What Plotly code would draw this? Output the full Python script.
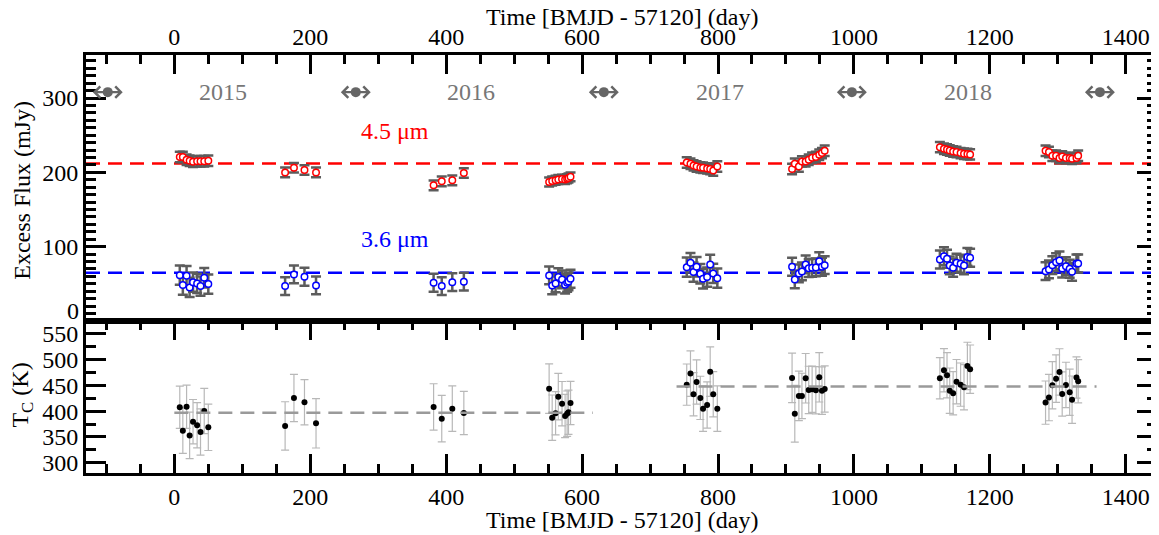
import plotly.graph_objects as go

# ---------------- data ----------------
days = [8, 12.5, 18, 22.5, 27.5, 33.5, 38.5, 44, 50,
        163, 176, 191.5, 208.5,
        381.5, 393.5, 409, 426,
        551.5, 556, 561, 565, 570.5, 575, 578, 580, 583,
        754, 759.5, 764, 768.5, 774, 778, 784, 788.5, 793, 799,
        909, 913, 919, 923.5, 929, 933.5, 938.5, 944, 949, 953, 957,
        1126.5, 1132.5, 1137, 1141, 1146, 1151, 1157, 1162, 1167, 1171,
        1282, 1287, 1292, 1297.5, 1302.5, 1306.5, 1312, 1317.5, 1321, 1327.5, 1330]

flux_45 = [220.7, 220.7, 217, 215.7, 214.4, 214.9, 214.9, 214.9, 215.7,
           200, 206.3, 203.2, 200,
           182.6, 188, 189.3, 199.2,
           187, 188.5, 189.5, 190.5, 191, 190.5, 191.5, 192.5, 194,
           213.4, 211.7, 209.4, 208, 206.7, 206.3, 205.4, 204.6, 202.5, 208,
           204.6, 211.7, 208, 214.8, 214.8, 217, 219.7, 220.7, 223.8, 226, 229.1,
           234, 231.8, 230.9, 229.5, 228.2, 227.4, 226, 225.1, 224.7, 224.2,
           229.1, 227.4, 222.4, 222.4, 219.3, 221.5, 219.3, 219.3, 218.4, 219.3, 222.4]

flux_36 = [61.7, 48.3, 60.9, 45.2, 52.3, 50.6, 47, 58.2, 49.7,
           47, 62.7, 59.6, 47.9,
           51.5, 47, 52.3, 52.9,
           61.3, 47.9, 50.6, 59.1, 56, 48.9, 51.5, 53.3, 56.9,
           72.5, 78.4, 65.8, 73, 63.6, 56.9, 59.1, 76.1, 64, 57.7,
           73, 56, 64, 66.7, 76.1, 71.1, 71.7, 72.1, 80.5, 73, 75.2,
           82.8, 87.2, 83.8, 74.8, 71.7, 78.4, 77, 74.8, 86.3, 85.1,
           67.1, 69.4, 75.2, 79.2, 81.5, 70.7, 73.8, 70.3, 66.3, 77.4, 77.4]

temp_c = [407.6, 362, 408.7, 353, 379.6, 372.6, 359.6, 400.4, 368.7,
          371.3, 425.6, 417.3, 376.5,
          408.2, 385.5, 404.9, 396.5,
          443.7, 387.4, 395.9, 428.2, 414.6, 390.7, 395.1, 397.9, 416,
          451.5, 472.9, 432.8, 456.7, 425.8, 404.9, 412, 476.7, 432.8, 404.9,
          464.5, 395.1, 429.6, 429.6, 463.9, 441.2, 442.5, 440.6, 465.8, 439.8, 443.1,
          463.9, 479.4, 469.7, 439.8, 434.8, 457.3, 451.5, 446.4, 487.8, 481.4,
          416.6, 426.4, 450.3, 463.1, 476.1, 433.4, 450.9, 436.7, 422.3, 465.2, 458.1]

err_45 = [7] * 9 + [6.5] * 4 + [6.5] * 4 + [6] * 9 + [7] * 10 + [7] * 11 + [7] * 10 + [7] * 11
err_36 = [13] * 9 + [12] * 4 + [12] * 4 + [12] * 9 + [13] * 10 + [12] * 11 + [12] * 10 + [12] * 11
err_tc = [41, 44, 42, 45, 43, 44, 45, 44, 45,
          47, 46, 44, 48,
          45, 45, 44, 42,
          48, 44, 42, 45, 43, 42, 44, 43, 42,
          40, 44, 42, 43, 42, 44, 45, 48, 44, 44,
          48, 55, 48, 44, 48, 46, 45, 46, 48, 46, 45,
          40, 42, 44, 44, 42, 43, 42, 44, 46, 47,
          42, 45, 46, 46, 45, 43, 44, 45, 46, 40, 42]

mean_45 = 212
mean_36 = 65
tc_mean_values = [397, 448]
tc_mean_spans = [(0, 616), (739, 1357)]

year_bounds = [-98, 267, 632, 997, 1362]
year_labels = ["2015", "2016", "2017", "2018"]
year_label_x = [72, 436.5, 803.5, 1167.5]
year_y = 308

band_labels = ["4.5 μm", "3.6 μm"]
band_label_pos = [(325, 256), (325, 110)]

# ---------------- figure ----------------
FONT = "Liberation Serif"
FS = 24
GREY_ERR = "#5c5c5c"
fig = go.Figure()

# top panel: 3.6 and 4.5 micron excess flux
fig.add_trace(go.Scatter(
    x=days, y=flux_36, mode="markers", xaxis="x2", yaxis="y2",
    error_y=dict(type="data", array=err_36, color=GREY_ERR, thickness=2.5, width=5),
    marker=dict(symbol="circle", size=6.5, color="white", line=dict(color="#0000ff", width=1.5)),
    showlegend=False))
fig.add_trace(go.Scatter(
    x=days, y=flux_45, mode="markers", xaxis="x2", yaxis="y2",
    error_y=dict(type="data", array=err_45, color=GREY_ERR, thickness=2.5, width=5),
    marker=dict(symbol="circle", size=6.5, color="white", line=dict(color="#ff0000", width=1.5)),
    showlegend=False))

# year markers
fig.add_trace(go.Scatter(
    x=year_bounds, y=[year_y] * len(year_bounds), mode="markers", xaxis="x2", yaxis="y2",
    marker=dict(symbol="circle", size=10, color="#666666"), showlegend=False, cliponaxis=False))

annotations = []
for xb in year_bounds:
    for dx in (-22, 22):
        annotations.append(dict(
            x=xb + dx, y=year_y, ax=xb, ay=year_y, xref="x2", yref="y2", axref="x2", ayref="y2",
            text="", showarrow=True, arrowhead=4, arrowsize=1.0, arrowwidth=2.2, arrowcolor="#666666"))
for lbl, xl in zip(year_labels, year_label_x):
    annotations.append(dict(x=xl, y=year_y, xref="x2", yref="y2", text=lbl, showarrow=False,
                            font=dict(family=FONT, size=FS, color="#777777")))
for lbl, (xl, yl), col in zip(band_labels, band_label_pos, ["#ff0000", "#0000ff"]):
    annotations.append(dict(x=xl, y=yl, xref="x2", yref="y2", text=lbl, showarrow=False,
                            font=dict(family=FONT, size=FS, color=col)))

# bottom panel: colour temperature
fig.add_trace(go.Scatter(
    x=days, y=temp_c, mode="markers", xaxis="x", yaxis="y",
    error_y=dict(type="data", array=err_tc, color="#b8b8b8", thickness=1.2, width=4),
    marker=dict(symbol="circle", size=6, color="black"), showlegend=False))

shapes = [
    dict(type="line", xref="x2 domain", yref="y2", x0=0, x1=1, y0=mean_45, y1=mean_45,
         line=dict(color="#ff0000", width=2.5, dash="14px,8px"), layer="below"),
    dict(type="line", xref="x2 domain", yref="y2", x0=0, x1=1, y0=mean_36, y1=mean_36,
         line=dict(color="#0000ff", width=2.5, dash="14px,8px"), layer="below"),
]
for val, (a, b) in zip(tc_mean_values, tc_mean_spans):
    shapes.append(dict(type="line", xref="x", yref="y", x0=a, x1=b, y0=val, y1=val,
                       line=dict(color="#9a9a9a", width=2.5, dash="14px,8px")))

# axis titles as annotations (plot area is 418 px tall, 1071 px wide)
annotations += [
    dict(text="Time [BMJD - 57120] (day)", xref="paper", yref="paper", x=0.5, y=-0.1124,
         xanchor="center", yanchor="middle",
         showarrow=False, font=dict(family=FONT, size=FS, color="black")),
    dict(text="Time [BMJD - 57120] (day)", xref="paper", yref="paper", x=0.5, y=1.0909,
         xanchor="center", yanchor="middle",
         showarrow=False, font=dict(family=FONT, size=FS, color="black")),
    dict(text="Excess Flux (mJy)", xref="paper", yref="paper", x=-0.06, y=0.677,
         xanchor="center", yanchor="middle",
         textangle=-90, showarrow=False, font=dict(family=FONT, size=FS, color="black")),
    dict(text="T<sub>C</sub> (K)", xref="paper", yref="paper", x=-0.06, y=0.187,
         xanchor="center", yanchor="middle",
         textangle=-90, showarrow=False, font=dict(family=FONT, size=FS, color="black")),
    dict(text="0", xref="paper", yref="y2", x=0, y=0, xanchor="right", yanchor="middle",
         xshift=-5, yshift=10, showarrow=False, font=dict(family=FONT, size=FS, color="black")),
]

XR = [-130, 1446]
SPLIT = 152 / 418
common_x = dict(range=XR, tick0=0, dtick=200, ticks="inside", ticklen=19, tickwidth=3,
                tickcolor="black", showline=True, linewidth=3, linecolor="black",
                showgrid=False, zeroline=False, automargin=False,
                minor=dict(tick0=0, dtick=50, ticks="inside", ticklen=9, tickwidth=3, tickcolor="black"),
                tickfont=dict(family=FONT, size=FS, color="black"))

# the page body adds an 8 px offset, margins compensate for it
fig.update_layout(
    width=1159, height=535, autosize=False,
    margin=dict(l=78, r=10, t=47, b=70, autoexpand=False),
    paper_bgcolor="white", plot_bgcolor="white",
    font=dict(family=FONT, size=FS, color="black"),
    xaxis=dict(anchor="y", side="bottom", mirror="ticks", ticklabelstandoff=0, **common_x),
    xaxis2=dict(anchor="y2", side="top", mirror=True, matches="x", ticklabelstandoff=-3, **common_x),
    yaxis=dict(domain=[0, SPLIT], range=[280, 575], tick0=300, dtick=50, ticks="inside",
               ticklen=20, tickwidth=3, tickcolor="black", showline=True, linewidth=3,
               linecolor="black", mirror="ticks", showgrid=False, zeroline=False, automargin=False,
               minor=dict(tick0=300, dtick=25, ticks="inside", ticklen=10, tickwidth=3, tickcolor="black"),
               tickfont=dict(family=FONT, size=FS, color="black")),
    yaxis2=dict(domain=[SPLIT, 1], range=[0, 358], tickmode="array",
                tickvals=[0, 100, 200, 300], ticktext=["", "100", "200", "300"], ticks="inside",
                ticklen=20, tickwidth=3, tickcolor="black", showline=True, linewidth=3,
                linecolor="black", mirror="ticks", showgrid=False, zeroline=False, automargin=False,
                minor=dict(tick0=0, dtick=10, ticks="inside", ticklen=10, tickwidth=3, tickcolor="black"),
                tickfont=dict(family=FONT, size=FS, color="black")),
    shapes=shapes, annotations=annotations,
)

fig.write_html("out.html")
